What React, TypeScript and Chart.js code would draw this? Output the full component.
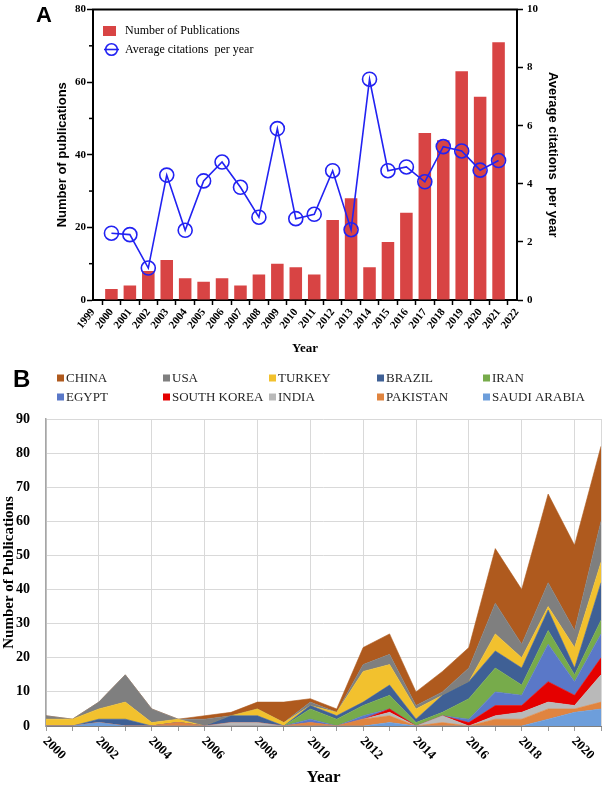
import React, { useEffect, useRef } from 'react';
import { Chart, registerables } from 'chart.js';

Chart.register(...registerables);

// ---------- Panel A data ----------
const yearsA = ['1999', '2000', '2001', '2002', '2003', '2004', '2005', '2006', '2007', '2008', '2009', '2010', '2011', '2012', '2013', '2014', '2015', '2016', '2017', '2018', '2019', '2020', '2021', '2022'];
const publications = [null, 3, 4, 8, 11, 6, 5, 6, 4, 7, 10, 9, 7, 22, 28, 9, 16, 24, 46, 44, 63, 56, 71, null];
const citations = [null, 2.3, 2.25, 1.1, 4.3, 2.4, 4.1, 4.75, 3.88, 2.85, 5.9, 2.8, 2.95, 4.45, 2.42, 7.6, 4.45, 4.58, 4.07, 5.28, 5.13, 4.47, 4.8, null];
const minorTicksA = [10, 30, 50, 70];

// ---------- Panel B data (2000..2021) ----------
const yearsB = ['2000', '2001', '2002', '2003', '2004', '2005', '2006', '2007', '2008', '2009', '2010', '2011', '2012', '2013', '2014', '2015', '2016', '2017', '2018', '2019', '2020', '2021'];
const saudiArabia = [0, 0, 1, 0, 0, 0, 0, 0, 0, 0, 0, 0, 0, 1, 0, 0, 0, 0, 0, 2, 4, 5];
const pakistan = [0, 0, 0, 0, 0, 1, 0, 0, 0, 0, 1, 0, 2, 2, 0, 1, 0, 2, 2, 3, 1, 2];
const india = [0, 0, 0, 0, 0, 0, 0, 1, 1, 0, 0, 0, 0, 1, 0, 2, 0, 1, 2, 2, 1, 8];
const southKorea = [0, 0, 0, 0, 0, 0, 0, 0, 0, 0, 0, 0, 0, 1, 0, 0, 1, 3, 2, 6, 3, 5];
const egypt = [0, 0, 0, 0, 0, 0, 0, 0, 0, 0, 1, 0, 1, 0, 0, 0, 1, 4, 3, 11, 4, 7];
const iran = [0, 0, 0, 0, 0, 0, 0, 0, 0, 0, 3, 2, 3, 4, 1, 1, 6, 7, 3, 4, 2, 4];
const brazil = [0, 0, 1, 2, 0, 0, 0, 2, 2, 0, 1, 1, 1, 3, 1, 5, 5, 5, 5, 6, 2, 11];
const turkey = [2, 2, 3, 5, 1, 1, 0, 0, 2, 1, 0, 1, 9, 6, 3, 0, 0, 5, 3, 1, 6, 6];
const usa = [1, 0, 2, 8, 4, 0, 2, 0, 0, 0, 1, 0, 2, 3, 1, 1, 4, 9, 4, 7, 5, 12];
const china = [0, 0, 0, 0, 0, 0, 1, 1, 2, 6, 1, 1, 5, 6, 4, 6, 6, 16, 16, 26, 25, 22];

const SERIF = '"Liberation Serif", "Times New Roman", serif';
const SANS = '"Liberation Sans", Arial, sans-serif';

const BAR_COLOR = '#D84444';
const LINE_COLOR = '#2222F2';

const seriesB = [
  { label: 'SAUDI ARABIA', data: saudiArabia, color: '#6D9EDB' },
  { label: 'PAKISTAN', data: pakistan, color: '#E0843F' },
  { label: 'INDIA', data: india, color: '#B9B9B9' },
  { label: 'SOUTH KOREA', data: southKorea, color: '#E50000' },
  { label: 'EGYPT', data: egypt, color: '#5A78C8' },
  { label: 'IRAN', data: iran, color: '#77AB4B' },
  { label: 'BRAZIL', data: brazil, color: '#3F6095' },
  { label: 'TURKEY', data: turkey, color: '#F2C12E' },
  { label: 'USA', data: usa, color: '#7F7F7F' },
  { label: 'CHINA', data: china, color: '#AF5A1E' },
];

const panelAExtras = {
  id: 'panelAExtras',
  afterDraw(chart: any) {
    const { ctx, chartArea: ca, scales } = chart;
    const y = scales.y;
    ctx.save();
    ctx.strokeStyle = '#000';
    ctx.lineWidth = 2;
    ctx.beginPath();
    ctx.moveTo(ca.left - 1, ca.top);
    ctx.lineTo(ca.right + 1, ca.top);
    ctx.stroke();
    ctx.lineWidth = 1.5;
    minorTicksA.forEach((v) => {
      const py = y.getPixelForValue(v);
      ctx.beginPath();
      ctx.moveTo(ca.left - 4, py);
      ctx.lineTo(ca.left, py);
      ctx.stroke();
    });
    // legend
    const lx = ca.left + 10;
    const ly1 = ca.top + 21.5;
    const ly2 = ca.top + 40;
    ctx.fillStyle = BAR_COLOR;
    ctx.fillRect(lx, ly1 - 5, 13, 10);
    ctx.strokeStyle = LINE_COLOR;
    ctx.lineWidth = 1.6;
    ctx.beginPath();
    ctx.arc(lx + 8.5, ly2, 5.8, 0, Math.PI * 2);
    ctx.stroke();
    ctx.beginPath();
    ctx.moveTo(lx + 1, ly2);
    ctx.lineTo(lx + 16, ly2);
    ctx.stroke();
    ctx.fillStyle = '#000';
    ctx.font = `12px ${SERIF}`;
    ctx.textAlign = 'left';
    ctx.textBaseline = 'middle';
    ctx.fillText(chart.data.datasets[1].label, lx + 22, ly1);
    ctx.fillText(chart.data.datasets[0].label, lx + 22, ly2);
    ctx.restore();
  },
};

const legendColsB = [57, 163, 269, 377, 483];
const legendRowsB = [18, 37];

const panelBExtras = {
  id: 'panelBExtras',
  afterDraw(chart: any) {
    const { ctx, scales } = chart;
    const xs = scales.x;
    ctx.save();
    ctx.fillStyle = '#000';
    ctx.font = `bold 13px ${SERIF}`;
    ctx.textAlign = 'left';
    ctx.textBaseline = 'middle';
    xs.ticks.forEach((_t: any, i: number) => {
      if (i % 2 !== 0) return;
      const px = xs.getPixelForTick(i);
      ctx.save();
      ctx.translate(px - 1, xs.top + 13);
      ctx.rotate(Math.PI / 4);
      ctx.fillText(String(chart.data.labels[i]), 0, 0);
      ctx.restore();
    });
    // legend (reverse order of stack)
    const ds = chart.data.datasets.slice().reverse();
    ctx.font = `13px ${SERIF}`;
    ds.forEach((d: any, k: number) => {
      const col = k % 5;
      const row = Math.floor(k / 5);
      const x = legendColsB[col];
      const y = legendRowsB[row];
      ctx.fillStyle = d.backgroundColor;
      ctx.fillRect(x, y - 3.5, 7, 7);
      ctx.fillStyle = '#262626';
      ctx.fillText(d.label, x + 9, y + 0.5);
    });
    ctx.restore();
  },
};

function PanelA() {
  const ref = useRef<HTMLCanvasElement | null>(null);
  useEffect(() => {
    if (!ref.current) return;
    const chart = new Chart(ref.current, {
      type: 'bar',
      data: {
        labels: yearsA,
        datasets: [
          {
            type: 'line',
            label: 'Average citations  per year',
            data: citations,
            yAxisID: 'y1',
            borderColor: LINE_COLOR,
            borderWidth: 1.6,
            pointRadius: 7,
            pointBorderWidth: 1.6,
            pointBorderColor: LINE_COLOR,
            pointBackgroundColor: 'rgba(255,255,255,0)',
            tension: 0,
            spanGaps: false,
            order: 0,
          } as any,
          {
            type: 'bar',
            label: 'Number of Publications',
            data: publications,
            yAxisID: 'y',
            backgroundColor: BAR_COLOR,
            barPercentage: 0.68,
            categoryPercentage: 1,
            order: 1,
          } as any,
        ],
      },
      options: {
        responsive: false,
        animation: false,
        layout: { padding: { top: 0, left: 0, right: 0, bottom: 0 } },
        plugins: { legend: { display: false }, tooltip: { enabled: false } },
        scales: {
          x: {
            type: 'category',
            offset: false,
            grid: { display: true, drawOnChartArea: false, drawTicks: true, tickLength: 5, tickColor: '#000', tickWidth: 1.5 },
            border: { display: true, color: '#000', width: 2 },
            ticks: {
              autoSkip: false,
              maxRotation: 52,
              minRotation: 52,
              padding: 1,
              color: '#000',
              font: { family: SERIF, weight: 'bold', size: 11 },
            },
            title: {
              display: true,
              text: 'Year',
              color: '#000',
              font: { family: SERIF, weight: 'bold', size: 13 },
              padding: { top: 0, bottom: 4 },
            },
            afterFit: (s: any) => { s.height = 60; },
          },
          y: {
            position: 'left',
            min: 0,
            max: 80,
            ticks: { stepSize: 20, padding: 1, color: '#000', font: { family: SERIF, weight: 'bold', size: 11, lineHeight: 1 } },
            grid: { display: true, drawOnChartArea: false, drawTicks: true, tickLength: 6, tickColor: '#000', tickWidth: 1.5 },
            border: { display: true, color: '#000', width: 2 },
            title: {
              display: true,
              text: 'Number of publications',
              color: '#000',
              font: { family: SANS, weight: 'bold', size: 13 },
              padding: { top: 55, bottom: 0 },
            },
            afterFit: (s: any) => { s.width = 93; },
          },
          y1: {
            position: 'right',
            min: 0,
            max: 10,
            ticks: { stepSize: 2, padding: 4, color: '#000', font: { family: SERIF, weight: 'bold', size: 11, lineHeight: 1 } },
            grid: { display: true, drawOnChartArea: false, drawTicks: true, tickLength: 6, tickColor: '#000', tickWidth: 1.5 },
            border: { display: true, color: '#000', width: 2 },
            title: {
              display: true,
              text: 'Average citations  per year',
              color: '#000',
              font: { family: SANS, weight: 'bold', size: 13 },
              padding: { top: 43, bottom: 0 },
            },
            afterFit: (s: any) => { s.width = 86; },
          },
        },
      } as any,
      plugins: [panelAExtras],
    });
    return () => chart.destroy();
  }, []);
  return <canvas ref={ref} width={603} height={360} style={{ position: 'absolute', left: 0, top: 0, width: 603, height: 360 }} />;
}

function PanelB() {
  const ref = useRef<HTMLCanvasElement | null>(null);
  useEffect(() => {
    if (!ref.current) return;
    const chart = new Chart(ref.current, {
      type: 'line',
      data: {
        labels: yearsB,
        datasets: seriesB.map((s, i) => ({
          label: s.label,
          data: s.data,
          backgroundColor: s.color,
          borderColor: s.color,
          borderWidth: 0.6,
          pointRadius: 0,
          tension: 0,
          fill: i === 0 ? 'origin' : '-1',
        })),
      },
      options: {
        responsive: false,
        animation: false,
        layout: { padding: { top: 59, left: 0, right: 2, bottom: 0 } },
        plugins: { legend: { display: false }, tooltip: { enabled: false } },
        scales: {
          x: {
            type: 'category',
            offset: false,
            grid: {
              display: true,
              drawOnChartArea: true,
              drawTicks: true,
              tickLength: 5,
              tickColor: '#9A9A9A',
              lineWidth: 1,
              color: (c: any) => (c.index % 2 === 0 || c.index === yearsB.length - 1 ? '#D9D9D9' : 'rgba(0,0,0,0)'),
            },
            border: { display: true, color: '#7F7F7F', width: 1 },
            ticks: { display: false, autoSkip: false },
            title: {
              display: true,
              text: 'Year',
              color: '#000',
              font: { family: SERIF, weight: 'bold', size: 17, lineHeight: 1 },
              padding: { top: 0, bottom: 0 },
            },
            afterFit: (s: any) => { s.height = 60; },
          },
          y: {
            stacked: true,
            min: 0,
            max: 90,
            ticks: { stepSize: 10, padding: 16, color: '#000', font: { family: SERIF, weight: 'bold', size: 14 } },
            grid: { display: true, drawTicks: false, color: '#D9D9D9', lineWidth: 1 },
            border: { display: true, color: '#A6A6A6', width: 1.5 },
            title: {
              display: true,
              text: 'Number of Publications',
              color: '#000',
              font: { family: SERIF, weight: 'bold', size: 15 },
              padding: { top: 0, bottom: 0 },
            },
            afterFit: (s: any) => { s.width = 46; },
          },
        },
      } as any,
      plugins: [panelBExtras],
    });
    return () => chart.destroy();
  }, []);
  return <canvas ref={ref} width={603} height={426} style={{ position: 'absolute', left: 0, top: 360, width: 603, height: 426 }} />;
}

export default function App() {
  return (
    <div style={{ position: 'absolute', left: 0, top: 0, width: 603, height: 786, background: '#fff', overflow: 'hidden' }}>
      <PanelA />
      <PanelB />
      <div style={{ position: 'absolute', left: 36, top: 4, font: `bold 22px ${SANS}`, lineHeight: '22px', color: '#000' }}>A</div>
      <div style={{ position: 'absolute', left: 13, top: 367, font: `bold 24px ${SANS}`, lineHeight: '24px', color: '#000' }}>B</div>
    </div>
  );
}
